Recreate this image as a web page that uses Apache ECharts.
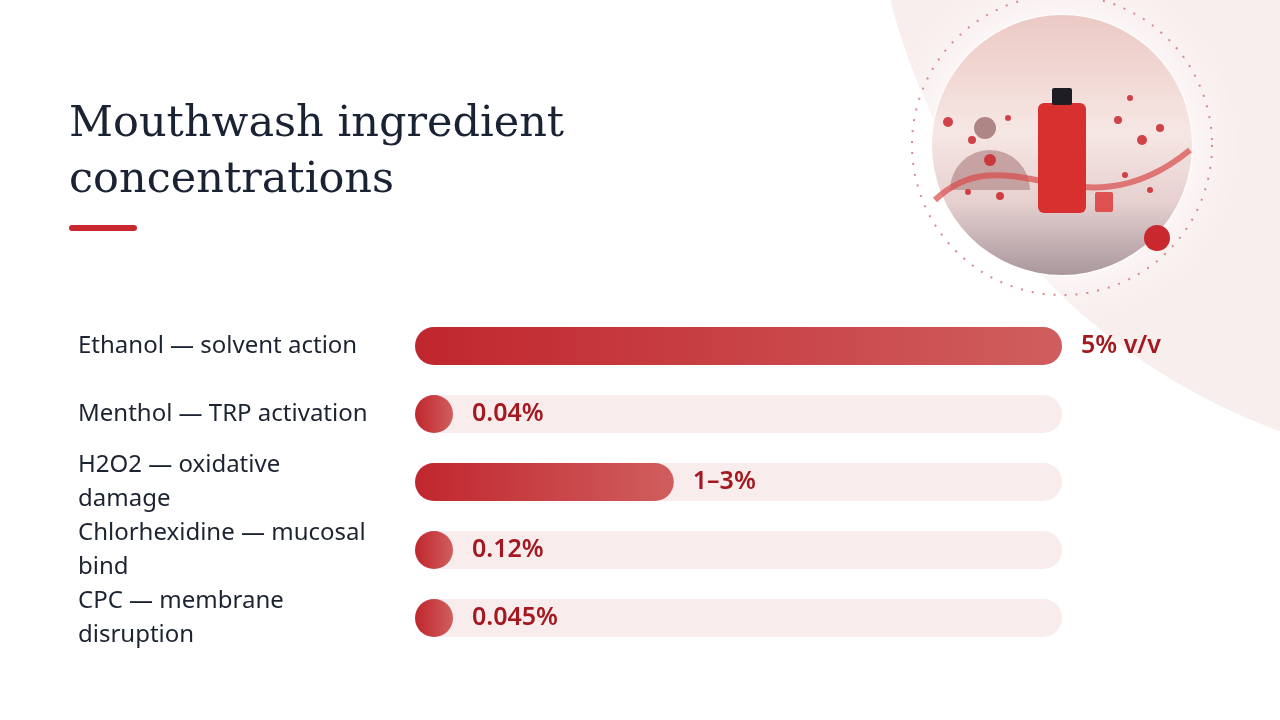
<!DOCTYPE html>
<html>
<head>
<meta charset="utf-8">
<style>
  html, body { margin: 0; padding: 0; background: #ffffff; }
  #chart { width: 1280px; height: 720px; }
</style>
<script src="https://cdn.jsdelivr.net/npm/echarts@6/dist/echarts.min.js"></script>
</head>
<body>
<div id="chart"></div>
<script>
// chart data
const categories = [
  "Ethanol — solvent action",
  "Menthol — TRP activation",
  "H2O2 — oxidative damage",
  "Chlorhexidine — mucosal bind",
  "CPC — membrane disruption",
];
const values = [5, 0.04, 2, 0.12, 0.045];
const valueLabels = ["5% v/v", "0.04%", "1–3%", "0.12%", "0.045%"];
const axisMax = 5;

const chart = echarts.init(document.getElementById("chart"));

const barGradient = new echarts.graphic.LinearGradient(0, 0, 1, 0, [
  { offset: 0, color: "#c0262d" },
  { offset: 1, color: "#d05e5e" },
]);

// little molecule dots inside the picture (decoration only)
const dots = [
  [948, 122, 5], [972, 140, 4], [990, 160, 6], [1008, 118, 3], [1000, 196, 4],
  [1118, 120, 4], [1130, 98, 3], [1142, 140, 5], [1160, 128, 4], [1125, 175, 3],
  [968, 192, 3], [1150, 190, 3],
].map(([cx, cy, r]) => ({
  type: "circle",
  silent: true,
  z: -6,
  shape: { cx, cy, r },
  style: { fill: "#c9262b", opacity: 0.85 },
}));

const option = {
  animation: false,
  backgroundColor: "#ffffff",
  grid: { left: 415, right: 218, top: 312, bottom: 68 },
  xAxis: { type: "value", min: 0, max: axisMax, show: false },
  yAxis: {
    type: "category",
    data: categories,
    inverse: true,
    axisLine: { show: false },
    axisTick: { show: false },
    axisLabel: {
      align: "left",
      margin: 337,
      width: 295,
      overflow: "break",
      fontFamily: "Noto Sans",
      fontSize: 24,
      lineHeight: 34,
      color: "#1c2331",
    },
  },
  graphic: [
    // pale backdrop circle top-right
    {
      type: "circle",
      silent: true,
      z: -10,
      shape: { cx: 1490, cy: -150, r: 618 },
      style: { fill: "#f9eeee" },
    },
    // photo glow
    {
      type: "circle",
      silent: true,
      z: -9,
      shape: { cx: 1062, cy: 145, r: 131 },
      style: { fill: "#ffffff", shadowBlur: 60, shadowColor: "rgba(255,255,255,1)" },
    },
    // photo circle
    {
      type: "circle",
      silent: true,
      z: -8,
      shape: { cx: 1062, cy: 145, r: 130 },
      style: {
        fill: new echarts.graphic.LinearGradient(0, 0, 0, 1, [
          { offset: 0, color: "#ecc9c4" },
          { offset: 0.45, color: "#f6e7e4" },
          { offset: 0.72, color: "#e6d0d0" },
          { offset: 1, color: "#a9979c" },
        ]),
      },
    },
    // silhouette of a person
    {
      type: "circle",
      silent: true,
      z: -7,
      shape: { cx: 985, cy: 128, r: 11 },
      style: { fill: "#9c6e6e", opacity: 0.8 },
    },
    {
      type: "sector",
      silent: true,
      z: -7,
      shape: { cx: 990, cy: 190, r0: 0, r: 40, startAngle: Math.PI, endAngle: 2 * Math.PI },
      style: { fill: "#b58a8a", opacity: 0.7 },
    },
    // red wave through the picture
    {
      type: "bezierCurve",
      silent: true,
      z: -6,
      shape: { x1: 935, y1: 200, x2: 1190, y2: 150, cpx1: 1010, cpy1: 130, cpx2: 1080, cpy2: 240 },
      style: { stroke: "#d94a4a", lineWidth: 6, fill: null, opacity: 0.7 },
    },
    // bottle
    {
      type: "rect",
      silent: true,
      z: -5,
      shape: { x: 1038, y: 103, width: 48, height: 110, r: 6 },
      style: { fill: "#d8302f" },
    },
    {
      type: "rect",
      silent: true,
      z: -5,
      shape: { x: 1052, y: 88, width: 20, height: 17, r: 2 },
      style: { fill: "#1d1d22" },
    },
    {
      type: "rect",
      silent: true,
      z: -5,
      shape: { x: 1095, y: 192, width: 18, height: 20, r: 2 },
      style: { fill: "#dc3b3a", opacity: 0.85 },
    },
    ...dots,
    // dotted ring
    {
      type: "circle",
      silent: true,
      z: -4,
      shape: { cx: 1062, cy: 145, r: 150 },
      style: { fill: null, stroke: "#d98a90", lineWidth: 2, lineDash: [2, 9] },
    },
    // red dot
    {
      type: "circle",
      silent: true,
      z: -3,
      shape: { cx: 1157, cy: 238, r: 13 },
      style: { fill: "#c8282e" },
    },
    // title
    {
      type: "text",
      silent: true,
      left: 69,
      top: 97,
      style: {
        text: "Mouthwash ingredient\nconcentrations",
        fontFamily: "DejaVu Serif",
        fontSize: 43,
        lineHeight: 56,
        fill: "#1a2233",
      },
    },
    // red rule under the title
    {
      type: "rect",
      silent: true,
      shape: { x: 69, y: 225, width: 68, height: 6, r: 3 },
      style: { fill: "#c8282e" },
    },
  ],
  series: [
    {
      type: "bar",
      name: "track",
      data: categories.map(() => axisMax),
      barWidth: 38,
      barGap: "-100%",
      silent: true,
      z: 1,
      itemStyle: { color: "#f8eced", borderRadius: 19 },
    },
    {
      type: "bar",
      name: "concentration",
      data: values,
      barWidth: 38,
      barMinHeight: 38,
      z: 2,
      itemStyle: { color: barGradient, borderRadius: 19 },
      label: {
        show: true,
        position: "right",
        distance: 19,
        formatter: (p) => valueLabels[p.dataIndex],
        fontFamily: "Noto Sans",
        fontSize: 25,
        fontWeight: 600,
        color: "#a3191f",
      },
    },
  ],
};

chart.setOption(option);
</script>
</body>
</html>
